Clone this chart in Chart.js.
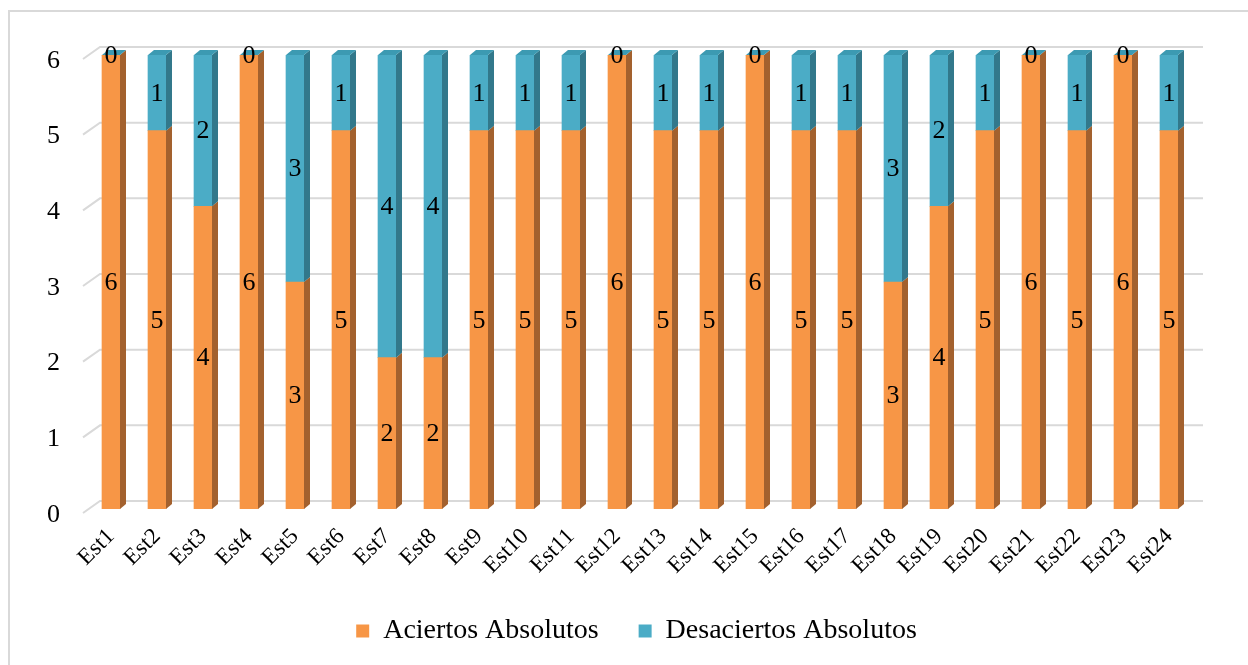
<!DOCTYPE html>
<html>
<head>
<meta charset="utf-8">
<script src="https://cdn.jsdelivr.net/npm/chart.js@4/dist/chart.umd.min.js"></script>
<style>
  body { margin: 0; background: #fff; }
  #wrap { position: relative; width: 1248px; height: 665px; overflow: hidden; }
  #frame { position: absolute; left: 8px; top: 10px; width: 1300px; height: 700px; border: 2px solid #D9D9D9; }
  canvas { position: absolute; left: 0; top: 0; }
</style>
</head>
<body>
<div id="wrap">
  <div id="frame"></div>
  <canvas id="chart" width="1248" height="665"></canvas>
</div>
<script>
var categories = ['Est1','Est2','Est3','Est4','Est5','Est6','Est7','Est8','Est9','Est10','Est11','Est12',
                  'Est13','Est14','Est15','Est16','Est17','Est18','Est19','Est20','Est21','Est22','Est23','Est24'];
var aciertos    = [6,5,4,6,3,5,2,2,5,5,5,6,5,5,6,5,5,3,4,5,6,5,6,5];
var desaciertos = [0,1,2,0,3,1,4,4,1,1,1,0,1,1,0,1,1,3,2,1,0,1,0,1];
var yTicks = [0,1,2,3,4,5,6];

var serif = "'Liberation Serif', 'Times New Roman', serif";
var sideColors = ['#A3612E', '#32788B'];
var topColor = '#3C9AB2';
var depthX = 6, depthY = 5;

// back wall gridlines with the little diagonal on the left
var gridWall = {
    id: 'gridWall',
    beforeDatasetsDraw: function(chart) {
        var ctx = chart.ctx, area = chart.chartArea, y = chart.scales.y;
        ctx.save();
        ctx.strokeStyle = '#D9D9D9';
        ctx.lineWidth = 2;
        yTicks.forEach(function(v) {
            var py = y.getPixelForValue(v);
            ctx.beginPath();
            ctx.moveTo(area.left - 5, py + 4);
            ctx.lineTo(area.left + 12, py - 8);
            ctx.lineTo(area.right + 11, py - 8);
            ctx.stroke();
        });
        ctx.restore();
    }
};

// side and top faces of the bars, then the value labels
var bars3d = {
    id: 'bars3d',
    afterDatasetsDraw: function(chart) {
        var ctx = chart.ctx;
        var n = chart.data.datasets.length;
        ctx.save();
        chart.data.datasets.forEach(function(ds, di) {
            var meta = chart.getDatasetMeta(di);
            meta.data.forEach(function(el) {
                var r = el.x + el.width / 2;
                ctx.fillStyle = sideColors[di];
                ctx.beginPath();
                ctx.moveTo(r, el.y);
                ctx.lineTo(r + depthX, el.y - depthY);
                ctx.lineTo(r + depthX, el.base - depthY);
                ctx.lineTo(r, el.base);
                ctx.closePath();
                ctx.fill();
                if (di == n - 1) {
                    var l = el.x - el.width / 2;
                    ctx.fillStyle = topColor;
                    ctx.beginPath();
                    ctx.moveTo(l, el.y);
                    ctx.lineTo(l + depthX, el.y - depthY);
                    ctx.lineTo(r + depthX, el.y - depthY);
                    ctx.lineTo(r, el.y);
                    ctx.closePath();
                    ctx.fill();
                }
            });
        });
        ctx.fillStyle = '#000';
        ctx.font = '26px ' + serif;
        ctx.textAlign = 'center';
        ctx.textBaseline = 'middle';
        chart.data.datasets.forEach(function(ds, di) {
            var meta = chart.getDatasetMeta(di);
            meta.data.forEach(function(el, i) {
                ctx.fillText(String(ds.data[i]), el.x, (el.y + el.base) / 2 + 1);
            });
        });
        ctx.restore();
    }
};

// legend sits a bit right of centre in the original
var legendShift = {
    id: 'legendShift',
    afterLayout: function(chart) {
        chart.legend.left += 27;
        chart.legend.right += 27;
    }
};

var ctx = document.getElementById('chart').getContext('2d');
var myChart = new Chart(ctx, {
    type: 'bar',
    data: {
        labels: categories,
        datasets: [{
            label: 'Aciertos Absolutos',
            data: aciertos,
            backgroundColor: '#F79646',
            barThickness: 18
        }, {
            label: 'Desaciertos Absolutos',
            data: desaciertos,
            backgroundColor: '#4BACC6',
            barThickness: 18
        }]
    },
    options: {
        responsive: false,
        animation: false,
        layout: { padding: { left: 27, right: 56, top: 55, bottom: 10 } },
        scales: {
            x: {
                stacked: true,
                grid: { display: false },
                border: { display: false },
                ticks: {
                    minRotation: 45, maxRotation: 45,
                    color: '#000',
                    font: { family: serif, size: 23 },
                    padding: 6
                },
                afterFit: function(axis) {
                    axis.height = 68;
                }
            },
            y: {
                stacked: true,
                min: 0, max: 6,
                grid: { display: false },
                border: { display: false },
                ticks: {
                    stepSize: 1,
                    color: '#000',
                    font: { family: serif, size: 26 },
                    padding: 20,
                    labelOffset: 6
                }
            }
        },
        plugins: {
            legend: {
                position: 'bottom',
                labels: {
                    boxWidth: 13, boxHeight: 13,
                    color: '#000',
                    font: { family: serif, size: 28 },
                    padding: 40
                }
            },
            tooltip: { enabled: false }
        }
    },
    plugins: [gridWall, bars3d, legendShift]
});
</script>
</body>
</html>
